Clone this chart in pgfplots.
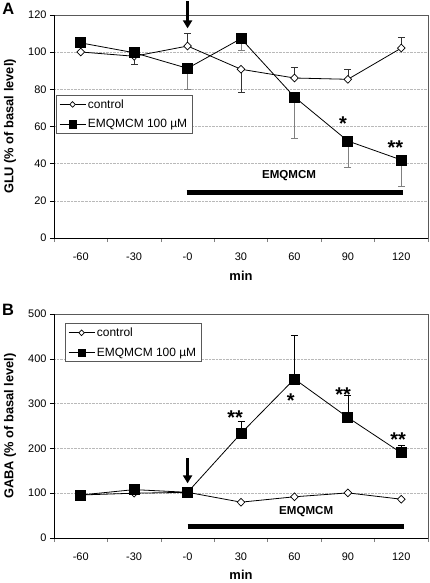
\documentclass[border=0pt]{standalone}
\usepackage{fontspec}
\setmainfont{Liberation Sans}
\usepackage{pgfplots}
\usepackage{pgfplotstable}
\pgfplotsset{compat=1.18}
\usetikzlibrary{arrows.meta}

\pgfplotstableread{
x y ep em
0 100.1 0 0
1 97.8 0 4.3
2 103.3 6.7 0
3 90.8 0 12.6
4 86.1 6.0 0
5 85.4 5.4 0
6 102.2 6.0 0
}\ctrlA
\pgfplotstableread{
x y ep em
0 105.0 0 0
1 99.7 0 0
2 91.3 0 11.1
3 107.3 0 6.1
4 75.9 0 22.4
5 52.2 0 14.0
6 42.0 0 14.2
}\emqA
\pgfplotstableread{
x y ep em
0 96.0 0 0
1 100.0 0 0
2 102.0 0 0
3 80.0 0 0
4 92.0 0 0
5 100.7 0 0
6 86.6 0 0
}\ctrlB
\pgfplotstableread{
x y ep em
0 96.0 0 0
1 108.0 0 0
2 102.0 0 0
3 233.6 26.4 0
4 355.0 97.0 0
5 269.0 49.0 0
6 190.0 16.0 0
}\emqB

\tikzset{starnode/.style={font=\bfseries\fontsize{20}{20}\selectfont, anchor=base, yshift=-11.5bp, inner sep=0pt}}

\pgfplotsset{
  panel/.style={
    scale only axis, width=374bp,
    xmin=-0.5, xmax=6.5,
    xtick={0,...,6}, xticklabels={-60,-30,-0,30,60,90,120},
    minor xtick={-0.5,0.5,...,6.5},
    major x tick style={draw=none},
    minor x tick style={gray, line width=0.6bp},
    y tick style={black, line width=0.6bp},
    tick align=outside, tick pos=left,
    major tick length=4bp, minor tick length=4bp,
    axis line style={gray!70!black, line width=0.6bp},
    ymajorgrids, major grid style={densely dotted, gray!55, line width=0.5bp},
    ticklabel style={font=\fontsize{11}{13}\selectfont},
    xticklabel style={yshift=-7.5bp},
    /pgf/number format/assume math mode=true,
    xlabel={min},
    xlabel style={font=\bfseries\fontsize{13}{15}\selectfont, at={(axis description cs:0.5,0)}, anchor=center, yshift=-38bp},
    ylabel style={font=\bfseries\fontsize{12.9}{15}\selectfont, at={(axis description cs:-0.1176,0.5)}, anchor=center},
    clip=false,
    legend style={anchor=north west, draw=gray!70!black, line width=0.6bp,
      font=\fontsize{12}{14}\selectfont, inner xsep=3bp, inner ysep=2bp, row sep=6bp,
      cells={anchor=west}},
    legend image code/.code={\draw[mark repeat=2, mark phase=2, #1] plot coordinates {(0bp,0bp) (13bp,0bp) (26bp,0bp)};},
  },
  ctrl/.style={black, line width=0.8bp, mark=diamond*, mark size=3.9bp,
    mark options={fill=white, xscale=1.3, line width=0.7bp}},
  emq/.style={black, line width=0.8bp, mark=square*, mark size=5bp,
    mark options={fill=black}},
  ebar/.style={forget plot, only marks, mark=none,
    error bars/.cd, y dir=both, y explicit,
    error bar style={#1, line width=0.7bp},
    error mark options={rotate=90, #1, mark size=3.5bp, line width=0.7bp}},
}

\begin{document}
\begin{tikzpicture}
\useasboundingbox (0,0) rectangle (430bp,-583bp);
\node[font=\bfseries\fontsize{16.5}{18}\selectfont] at (8.3bp,-8.8bp) {A};
\node[font=\bfseries\fontsize{16.5}{18}\selectfont] at (8bp,-309.5bp) {B};

% Panel A
\begin{axis}[panel, at={(54bp,-238bp)}, height=223bp,
  ymin=0, ymax=120, ytick={0,20,...,120},
  ylabel={GLU (\% of basal level)},
  legend style={at={(0.005,0.641)}}]
\addplot[ebar=black!80] table[x=x, y=y, y error plus=ep, y error minus=em] {\ctrlA};
\addplot[ebar=gray] table[x=x, y=y, y error plus=ep, y error minus=em] {\emqA};
\addplot[ctrl, legend image post style={mark size=2.8bp}] table[x=x, y=y] {\ctrlA};
\addlegendentry{control}
\addplot[emq, legend image post style={mark size=3.6bp}] table[x=x, y=y] {\emqA};
\addlegendentry{EMQMCM 100 µM}
\addplot[forget plot, black, line width=5bp] coordinates {(1.98,24.4) (6.04,24.4)};
\node[font=\bfseries\fontsize{11.6}{13}\selectfont] at (axis cs:3.90,33.4) {EMQMCM};
\node[starnode] at (axis cs:4.91,64.2) {*};
\node[starnode] at (axis cs:5.89,51.3) {**};
\draw[line width=2.6bp, -{Triangle[width=9bp,length=8bp]}] (axis cs:2,127.5) -- (axis cs:2,112.8);
\draw[black, line width=0.8bp] (rel axis cs:0,1) -- (rel axis cs:0,0) -- (rel axis cs:1,0);
\end{axis}

% Panel B
\begin{axis}[panel, at={(54bp,-538bp)}, height=224bp,
  ymin=0, ymax=500, ytick={0,100,...,500},
  ylabel={GABA (\% of basal level)},
  xlabel style={yshift=1bp},
  legend style={at={(0.029,0.958)}}]
\addplot[ebar=black!80] table[x=x, y=y, y error plus=ep, y error minus=em] {\ctrlB};
\addplot[ebar=black] table[x=x, y=y, y error plus=ep, y error minus=em] {\emqB};
\addplot[ctrl, legend image post style={mark size=2.8bp}] table[x=x, y=y] {\ctrlB};
\addlegendentry{control}
\addplot[emq, legend image post style={mark size=3.6bp}] table[x=x, y=y] {\emqB};
\addlegendentry{EMQMCM 100 µM}
\addplot[forget plot, black, line width=5bp] coordinates {(2.0,25.3) (6.05,25.3)};
\node[font=\bfseries\fontsize{11.6}{13}\selectfont] at (axis cs:4.22,58.7) {EMQMCM};
\node[starnode] at (axis cs:2.89,278) {**};
\node[starnode] at (axis cs:3.93,317.6) {*};
\node[starnode] at (axis cs:4.91,330) {**};
\node[starnode] at (axis cs:5.94,230) {**};
\draw[line width=2.6bp, -{Triangle[width=9bp,length=8bp]}] (axis cs:2,178) -- (axis cs:2,122);
\draw[black, line width=0.8bp] (rel axis cs:0,1) -- (rel axis cs:0,0) -- (rel axis cs:1,0);
\end{axis}
\end{tikzpicture}
\end{document}
